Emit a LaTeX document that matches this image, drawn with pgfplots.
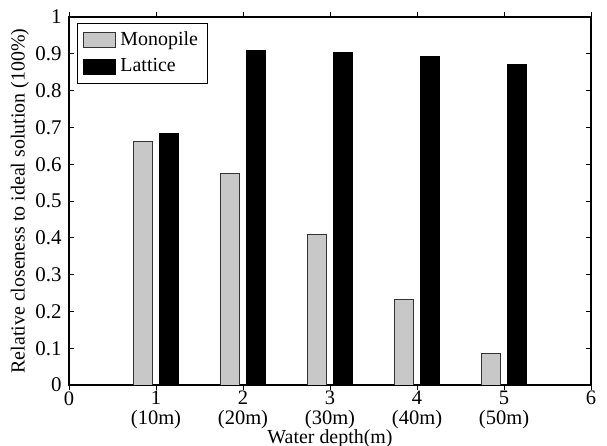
\documentclass[border=0pt]{standalone}
\usepackage{fontspec}
\setmainfont{Liberation Serif}
\usepackage{pgfplots}
\pgfplotsset{compat=1.18}
\definecolor{mono}{RGB}{200,200,200}
\begin{document}
\fontsize{10.5}{12}\selectfont
\begin{tikzpicture}
\begin{axis}[
  name=ax,
  scale only axis,
  width=261bp, height=184bp,
  xmin=0, xmax=6, ymin=0, ymax=1,
  xtick={0,1,2,3,4,5,6},
  xticklabels={0,{1\\(10m)},{2\\(20m)},{3\\(30m)},{4\\(40m)},{5\\(50m)},6},
  xticklabel style={align=center, font=\fontsize{10.3}{10}\selectfont, inner sep=0.5bp},
  ytick={0,0.1,...,1},
  yticklabels={0,0.1,0.2,0.3,0.4,0.5,0.6,0.7,0.8,0.9,1},
  yticklabel style={font=\fontsize{10.5}{12}\selectfont},
  /pgf/number format/assume math mode=true,
  tick align=inside,
  xtick pos=both, ytick pos=both,
  major tick length=2.5bp,
  tick style={black, line width=0.4pt},
  axis line style={black, line width=0.6pt},
  xlabel={Water depth(m)},
  ylabel={Relative closeness to ideal solution (100\%)},
  xlabel style={at={(axis description cs:0.5,-0.160)}, anchor=base, font=\fontsize{10}{12}\selectfont},
  ylabel style={at={(axis description cs:-0.094,0.5)}, anchor=center, font=\fontsize{10}{12}\selectfont},
  ybar, bar width=0.22,
  legend style={at={(axis description cs:0.0153,0.984)}, anchor=north west,
    draw=black, line width=0.5pt, font=\fontsize{10}{10}\selectfont,
    inner xsep=3bp, inner ysep=2bp, row sep=1.2bp},
  legend cell align=left,
  legend image code/.code={\draw[#1, line width=0.5pt] (0bp,-3.75bp) rectangle (16bp,3.75bp);},
]
\addplot[fill=mono, draw=black!80, line width=0.5pt, bar shift=-0.145] coordinates {
  (1,0.663) (2,0.574) (3,0.410) (4,0.232) (5,0.086)};
\addplot[fill=black, draw=black, line width=0.5pt, bar shift=0.148] coordinates {
  (1,0.683) (2,0.910) (3,0.904) (4,0.892) (5,0.870)};
\legend{Monopile, Lattice}
\end{axis}
\pgfresetboundingbox
\path ([xshift=-34.5bp,yshift=-30.5bp]ax.south west) rectangle ([xshift=8bp,yshift=8.5bp]ax.north east);
\end{tikzpicture}
\end{document}
